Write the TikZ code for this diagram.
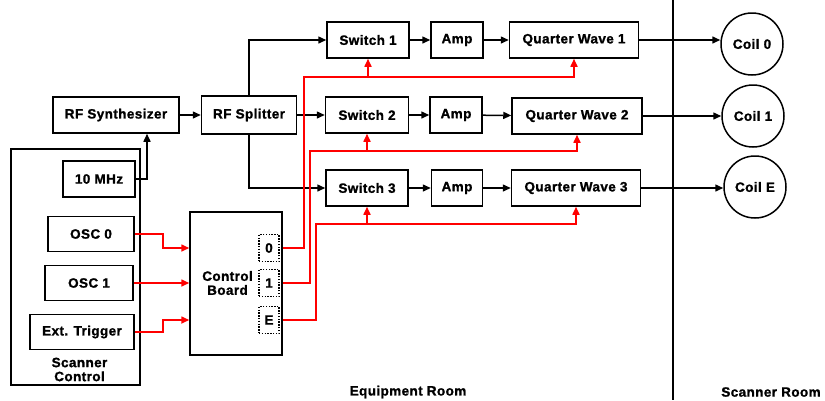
\documentclass[tikz,border=0pt]{standalone}
\usepackage{fontspec}
\setmainfont[LetterSpace=3, BoldFeatures={FakeBold=1.2}]{Liberation Sans}
\usepackage{tikz}
\usetikzlibrary{positioning, arrows.meta}

\begin{document}
\begin{tikzpicture}[x=1pt, y=-1pt, line width=1.5pt,
       font=\fontsize{13.5}{14}\selectfont\bfseries,
       blk/.style={draw, line width=1.5pt, minimum height=36, inner sep=2pt},
       port/.style={draw, line width=1.4pt, dash pattern=on 1.4pt off 1.4pt,
                    minimum width=20, minimum height=27, inner sep=0pt},
       coil/.style={draw, line width=1.5pt, circle, minimum size=62, inner sep=0pt},
       sig/.style={-{Triangle[length=8pt,width=7pt]}},
       ctl/.style={sig, red, line width=1.6pt}]
       \useasboundingbox (0,0) rectangle (825,400);

       % equipment room
       \node[blk, minimum width=126] (synth) at (116,115) {RF Synthesizer};
       \node[blk, minimum width=95, minimum height=38] (split) at (249,115) {RF Splitter};
       \node[draw, line width=1.5pt, minimum width=129, minimum height=236] (scan) at (75.5,267) {};
       \node[blk, minimum width=72] (mhz) at (99,179) {10 MHz};
       \node[blk, minimum width=86, minimum height=35] (osc0) at (91,234) {OSC 0};
       \node[blk, minimum width=88, minimum height=35] (osc1) at (89,283) {OSC 1};
       \node[blk, minimum width=104, minimum height=35] (trig) at (82,332) {Ext. Trigger};
       \node[align=center] (scanlbl) at (79.5,369.5) {Scanner\\Control};

       \node[blk, minimum width=92, minimum height=143] (cb) at (236,283.5) {};
       \node[align=center] (cblbl) at (227.5,283) {Control\\Board};
       \node[port] (p0) at (269,248) {0};
       \node[port] (p1) at (269,283) {1};
       \node[port] (pE) at (269,320) {E};

       \node[blk, minimum width=82] (sw1) at (368,40) {Switch 1};
       \node[blk, minimum width=52] (amp1) at (457,40) {Amp};
       \node[blk, minimum width=129] (qw1) at (574,40) {Quarter Wave 1};
       \node[blk, minimum width=83] (sw2) at (367,115) {Switch 2};
       \node[blk, minimum width=52] (amp2) at (456,115) {Amp};
       \node[blk, minimum width=130] (qw2) at (577,116) {Quarter Wave 2};
       \node[blk, minimum width=82] (sw3) at (367,188) {Switch 3};
       \node[blk, minimum width=51] (amp3) at (457,188) {Amp};
       \node[blk, minimum width=129] (qw3) at (576,188) {Quarter Wave 3};

       % scanner room
       \node[coil] (coil0) at (752,44) {Coil 0};
       \node[coil] (coil1) at (753,116) {Coil 1};
       \node[coil] (coilE) at (755,187) {Coil E};

       \draw (673,0) -- (673,400);
       \node (eqroom) at (408,392) {Equipment Room};
       \node (scroom) at (771,392) {Scanner Room};

       % rf path
       \draw[sig] (synth) -- (split);
       \draw[sig] (mhz.east) -| ([xshift=31pt]synth.south);
       \draw[sig] (split.north) |- (sw1);
       \draw[sig] (split) -- (sw2);
       \draw[sig] (split.south) |- (sw3);
       \path[sig]
       (sw1) edge (amp1)
       (amp1) edge (qw1)
       (qw1.east) edge (qw1.east -| coil0.west)
       (sw2) edge (amp2)
       (amp2) edge (qw2)
       (qw2.east) edge (qw2.east -| coil1.west)
       (sw3) edge (amp3)
       (amp3) edge (qw3)
       (qw3.east) edge (qw3.east -| coilE.west);

       % control lines
       \draw[ctl] (osc0.east) -- ++(28,0) |- (p0 -| cb.west);
       \draw[ctl] (osc1.east) -- (p1 -| cb.west);
       \draw[ctl] (trig.east) -- ++(28,0) |- (pE -| cb.west);

       \coordinate (bus0) at (304,77);
       \coordinate (bus1) at (310,151);
       \coordinate (busE) at (316,224);
       \draw[ctl] (p0 -| cb.east) -| (bus0) -| (qw1.south);
       \draw[ctl] (bus0 -| sw1.south) -- (sw1.south);
       \draw[ctl] (p1 -| cb.east) -| (bus1) -| (qw2.south);
       \draw[ctl] (bus1 -| sw2.south) -- (sw2.south);
       \draw[ctl] (pE -| cb.east) -| (busE) -| (qw3.south);
       \draw[ctl] (busE -| sw3.south) -- (sw3.south);
\end{tikzpicture}
\end{document}
